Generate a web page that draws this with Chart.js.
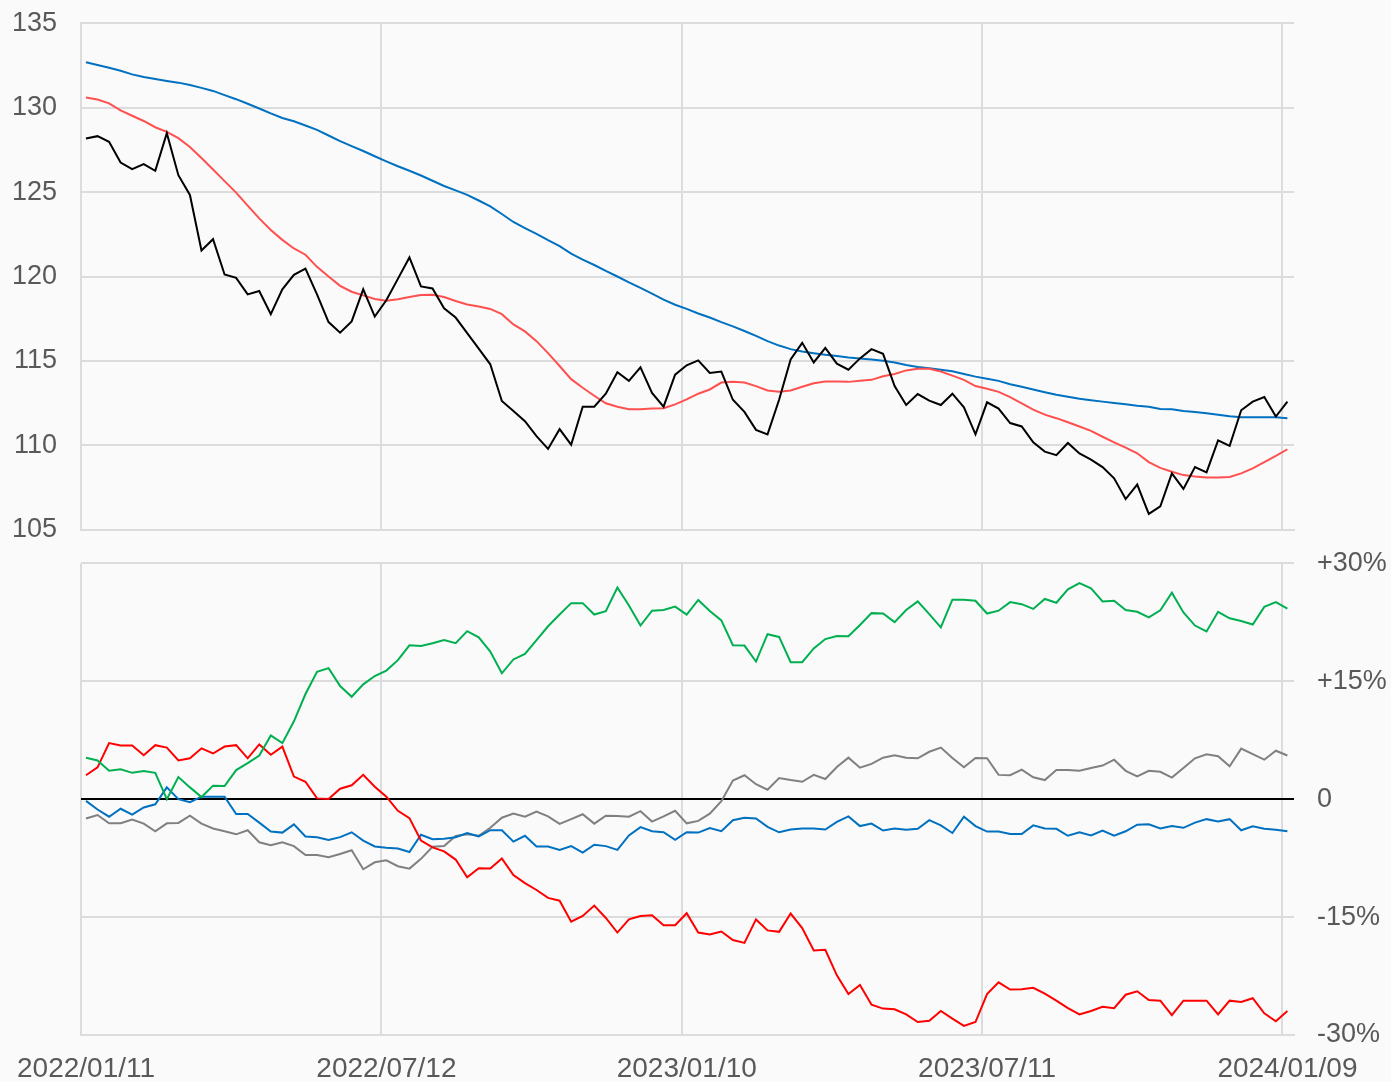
<!DOCTYPE html>
<html>
<head>
<meta charset="utf-8">
<script src="https://cdn.jsdelivr.net/npm/chart.js@4.4.1/dist/chart.umd.min.js"></script>
<style>
  html, body { margin: 0; padding: 0; background: #fafafa; }
  #wrap { position: relative; width: 1391px; height: 1082px; overflow: hidden; }
  .panel { position: absolute; }
</style>
</head>
<body>
<div id="wrap">
  <div class="panel" style="top:-17px; left:0"><canvas id="price-chart" width="1391" height="587"></canvas></div>
  <div class="panel" style="top:524px; left:-5px"><canvas id="ratio-chart" width="1396" height="558"></canvas></div>
</div>
<script>
// x axis: gridline dates and weekly data starting on the friday after the first gridline
const tickLabels = ['2022/01/11', '2022/07/12', '2023/01/10', '2023/07/11', '2024/01/09'];
const firstPointDate = '2022/01/14';

// top panel (price + moving averages)
const closeSeries = [
  128.17, 128.31, 127.98, 126.75, 126.36, 126.65, 126.26, 128.49, 126.0, 124.83,
  121.54, 122.21, 120.12, 119.92, 118.94, 119.14, 117.77, 119.24, 120.1, 120.47,
  118.94, 117.3, 116.67, 117.34, 119.24, 117.63, 118.59, 119.86, 121.13, 119.41,
  119.29, 118.12, 117.57, 116.65, 115.73, 114.8, 112.63, 112.04, 111.43, 110.55,
  109.79, 110.96, 110.04, 112.29, 112.29, 113.06, 114.33, 113.82, 114.62, 113.1,
  112.29, 114.19, 114.74, 115.03, 114.29, 114.37, 112.7, 111.98, 110.92, 110.65,
  112.7, 115.09, 116.07, 114.91, 115.77, 114.84, 114.48, 115.15, 115.7, 115.42,
  113.51, 112.39, 113.04, 112.65, 112.39, 113.06, 112.25, 110.65, 112.55, 112.18,
  111.32, 111.12, 110.18, 109.63, 109.42, 110.14, 109.52, 109.16, 108.71, 108.05,
  106.82, 107.68, 105.94, 106.39, 108.34, 107.42, 108.71, 108.4, 110.3, 109.97,
  112.08, 112.59, 112.86, 111.71, 112.59
];
const shortAvg = [
  130.6, 130.48, 130.25, 129.84, 129.52, 129.21, 128.84, 128.57, 128.19, 127.67,
  127.02, 126.34, 125.65, 124.97, 124.2, 123.44, 122.76, 122.17, 121.66, 121.29,
  120.57, 120.0, 119.45, 119.1, 118.88, 118.67, 118.57, 118.65, 118.79, 118.9,
  118.92, 118.79, 118.55, 118.34, 118.22, 118.08, 117.77, 117.16, 116.75, 116.17,
  115.46, 114.7, 113.92, 113.41, 112.94, 112.49, 112.29, 112.14, 112.14, 112.18,
  112.2, 112.43, 112.72, 113.06, 113.31, 113.72, 113.76, 113.72, 113.51, 113.25,
  113.17, 113.25, 113.47, 113.68, 113.78, 113.78, 113.76, 113.82, 113.88, 114.09,
  114.23, 114.44, 114.54, 114.54, 114.37, 114.13, 113.88, 113.51, 113.35, 113.17,
  112.86, 112.49, 112.12, 111.82, 111.61, 111.37, 111.12, 110.86, 110.51, 110.18,
  109.87, 109.53, 109.01, 108.67, 108.44, 108.24, 108.15, 108.09, 108.09, 108.13,
  108.34, 108.64, 109.01, 109.38, 109.77
];
const longAvg = [
  132.69, 132.52, 132.36, 132.18, 131.97, 131.81, 131.69, 131.58, 131.48, 131.34,
  131.17, 130.99, 130.74, 130.5, 130.23, 129.95, 129.66, 129.39, 129.19, 128.94,
  128.68, 128.35, 128.02, 127.72, 127.43, 127.12, 126.82, 126.53, 126.26, 125.98,
  125.67, 125.36, 125.1, 124.83, 124.5, 124.15, 123.7, 123.23, 122.87, 122.52,
  122.15, 121.8, 121.35, 121.0, 120.68, 120.33, 120.0, 119.65, 119.33, 118.98,
  118.63, 118.33, 118.08, 117.81, 117.57, 117.3, 117.05, 116.77, 116.48, 116.17,
  115.91, 115.7, 115.56, 115.46, 115.36, 115.29, 115.21, 115.15, 115.09, 115.01,
  114.91, 114.76, 114.64, 114.56, 114.48, 114.39, 114.23, 114.07, 113.95, 113.82,
  113.62, 113.47, 113.31, 113.15, 113.0, 112.88, 112.76, 112.67, 112.59, 112.51,
  112.43, 112.35, 112.29, 112.16, 112.14, 112.04, 111.98, 111.9, 111.82, 111.73,
  111.67, 111.67, 111.67, 111.67, 111.61
];

// bottom panel (% deviation lines)
const greenPct = [
  5.27, 4.92, 3.6, 3.78, 3.34, 3.56, 3.34, 0.0, 2.81, 1.49,
  0.26, 1.71, 1.67, 3.69, 4.57, 5.54, 8.09, 7.12, 9.89, 13.36,
  16.18, 16.66, 14.37, 13.01, 14.59, 15.65, 16.35, 17.67, 19.56, 19.47,
  19.82, 20.22, 19.82, 21.36, 20.57, 18.77, 16.0, 17.76, 18.46, 20.22,
  21.98, 23.47, 24.92, 24.92, 23.47, 23.91, 26.9, 24.62, 22.07, 23.96,
  24.04, 24.48, 23.47, 25.32, 23.91, 22.73, 19.56, 19.52, 17.49, 20.97,
  20.62, 17.41, 17.41, 19.16, 20.35, 20.75, 20.7, 22.15, 23.65, 23.6,
  22.51, 24.04, 25.14, 23.52, 21.85, 25.36, 25.36, 25.23, 23.6, 23.96,
  25.05, 24.79, 24.18, 25.45, 24.97, 26.68, 27.47, 26.81, 25.14, 25.23,
  24.04, 23.82, 23.12, 24.0, 26.24, 23.74, 22.07, 21.32, 23.82, 22.99,
  22.64, 22.2, 24.44, 25.05, 24.22
];
const redPct = [
  3.03, 4.04, 7.12, 6.81, 6.81, 5.58, 6.86, 6.55, 4.92, 5.19,
  6.46, 5.8, 6.68, 6.86, 5.19, 6.95, 5.63, 6.68, 2.86, 2.2,
  0.09, 0.0, 1.32, 1.76, 3.08, 1.58, 0.31, -1.49, -2.42, -5.27,
  -6.15, -6.64, -7.69, -9.93, -8.79, -8.84, -7.56, -9.67, -10.68, -11.56,
  -12.57, -12.92, -15.6, -14.86, -13.54, -15.12, -16.97, -15.3, -14.86, -14.77,
  -16.04, -16.04, -14.51, -16.97, -17.23, -16.84, -17.93, -18.29, -15.3, -16.7,
  -16.88, -14.55, -16.4, -19.25, -19.16, -22.42, -24.79, -23.65, -26.15, -26.64,
  -26.73, -27.38, -28.35, -28.18, -26.95, -27.91, -28.84, -28.35, -24.79, -23.3,
  -24.22, -24.18, -24.0, -24.75, -25.63, -26.59, -27.38, -26.95, -26.42, -26.59,
  -24.88, -24.44, -25.54, -25.63, -27.47, -25.63, -25.63, -25.63, -27.38, -25.63,
  -25.8, -25.32, -27.25, -28.26, -26.95
];
const bluePct = [
  -0.22, -1.32, -2.24, -1.23, -1.98, -1.06, -0.66, 1.49, 0.0, -0.4,
  0.31, 0.31, 0.31, -1.89, -1.89, -2.99, -4.13, -4.26, -3.21, -4.75,
  -4.84, -5.19, -4.84, -4.22, -5.27, -6.02, -6.2, -6.29, -6.73, -4.53,
  -5.1, -5.05, -4.84, -4.31, -4.75, -3.96, -3.96, -5.41, -4.66, -6.02,
  -6.02, -6.46, -5.98, -6.81, -5.8, -5.98, -6.46, -4.62, -3.56, -4.09,
  -4.22, -5.19, -4.22, -4.26, -3.69, -4.09, -2.68, -2.37, -2.46, -3.52,
  -4.22, -3.87, -3.74, -3.74, -3.87, -2.9, -2.2, -3.43, -3.12, -4.0,
  -3.74, -3.91, -3.78, -2.68, -3.34, -4.31, -2.24, -3.43, -4.13, -4.13,
  -4.44, -4.44, -3.34, -3.74, -3.78, -4.66, -4.22, -4.62, -4.0, -4.66,
  -4.09, -3.25, -3.21, -3.74, -3.43, -3.65, -2.99, -2.55, -2.86, -2.55,
  -3.96, -3.47, -3.78, -3.91, -4.09
];
const grayPct = [
  -2.46, -2.02, -3.08, -3.08, -2.59, -3.12, -4.09, -3.08, -3.03, -2.11,
  -3.12, -3.74, -4.09, -4.48, -3.96, -5.49, -5.85, -5.49, -5.98, -7.12,
  -7.12, -7.38, -6.99, -6.51, -8.92, -8.04, -7.78, -8.53, -8.84, -7.6,
  -6.07, -5.98, -4.7, -4.48, -4.66, -3.65, -2.37, -1.85, -2.24, -1.58,
  -2.2, -3.16, -2.55, -1.93, -3.12, -2.11, -2.15, -2.24, -1.54, -2.86,
  -2.2, -1.49, -3.08, -2.77, -1.85, -0.26, 2.37, 3.03, 1.89, 1.19,
  2.68, 2.42, 2.2, 3.08, 2.55, 4.09, 5.27, 4.0, 4.48, 5.27,
  5.58, 5.27, 5.19, 6.02, 6.55, 5.23, 4.04, 5.23, 5.19, 3.08,
  3.03, 3.74, 2.77, 2.42, 3.69, 3.69, 3.6, 3.96, 4.26, 5.01,
  3.6, 2.9, 3.6, 3.47, 2.73, 3.96, 5.19, 5.71, 5.45, 4.18,
  6.42, 5.71, 5.01, 6.15, 5.54
];

const pctTicks = [-30, -15, 0, 15, 30];

// helpers
const DAY = 86400000;
function parseDay(s) {
  const p = s.split('/').map(Number);
  return Date.UTC(p[0], p[1] - 1, p[2]);
}
const axisStart = parseDay(tickLabels[0]);
const tickDays = tickLabels.map(s => (parseDay(s) - axisStart) / DAY);
const firstDay = (parseDay(firstPointDate) - axisStart) / DAY;
function toPoints(values) {
  return values.map((v, i) => ({ x: firstDay + 7 * i, y: v }));
}

const gridColor = '#dcdcdc';
const textColor = '#595959';
const fontFamily = "'Liberation Sans', Arial, sans-serif";

function lineSet(values, color) {
  return {
    data: toPoints(values),
    borderColor: color,
    backgroundColor: color,
    borderWidth: 2,
    pointRadius: 0,
    tension: 0,
    fill: false,
  };
}

function xScale(showLabels) {
  return {
    type: 'linear',
    min: 0,
    max: 735,
    afterBuildTicks: (scale) => { scale.ticks = tickDays.map(v => ({ value: v })); },
    afterFit: (scale) => { scale.height = showLabels ? 47 : 0; },
    grid: { color: gridColor, lineWidth: 2, drawTicks: false },
    border: { color: gridColor, width: 2 },
    ticks: {
      display: showLabels,
      autoSkip: false,
      maxRotation: 0,
      labelOffset: 5,
      padding: 17,
      color: textColor,
      font: { family: fontFamily, size: 28 },
      callback: (value, index) => tickLabels[index],
    },
  };
}

Chart.defaults.animation = false;

// top chart
new Chart(document.getElementById('price-chart'), {
  type: 'line',
  data: {
    datasets: [
      lineSet(closeSeries, '#000000'),
      lineSet(shortAvg, '#FF5050'),
      lineSet(longAvg, '#0070C0'),
    ],
  },
  options: {
    responsive: false,
    devicePixelRatio: 1,
    layout: { padding: { top: 23, right: 97, bottom: 16, left: 0 } },
    plugins: { legend: { display: false }, tooltip: { enabled: false } },
    scales: {
      x: xScale(false),
      y: {
        min: 105,
        max: 135,
        afterFit: (scale) => { scale.width = 81; },
        grid: { color: gridColor, lineWidth: 2, drawTicks: false },
        border: { color: gridColor, width: 2 },
        ticks: {
          stepSize: 5,
          padding: 24,
          color: textColor,
          font: { family: fontFamily, size: 27 },
        },
      },
    },
  },
});

// bottom chart
new Chart(document.getElementById('ratio-chart'), {
  type: 'line',
  data: {
    datasets: [
      lineSet(greenPct, '#00B050'),
      lineSet(redPct, '#FF0000'),
      lineSet(bluePct, '#0070C0'),
      lineSet(grayPct, '#808080'),
    ],
  },
  options: {
    responsive: false,
    devicePixelRatio: 1,
    layout: { padding: { top: 18, right: 0, bottom: 0, left: 76 } },
    plugins: { legend: { display: false }, tooltip: { enabled: false } },
    scales: {
      x: xScale(true),
      y: {
        position: 'right',
        min: -30,
        max: 30,
        afterBuildTicks: (scale) => { scale.ticks = pctTicks.map(v => ({ value: v })); },
        afterFit: (scale) => { scale.width = 97; },
        grid: {
          color: (ctx) => (ctx.tick && ctx.tick.value === 0 ? '#000000' : gridColor),
          lineWidth: 2,
          drawTicks: false,
        },
        border: { display: false },
        ticks: {
          padding: 23,
          color: textColor,
          font: { family: fontFamily, size: 27 },
          callback: (v) => (v > 0 ? '+' + v + '%' : v === 0 ? '0' : v + '%'),
        },
      },
    },
  },
});
</script>
</body>
</html>
